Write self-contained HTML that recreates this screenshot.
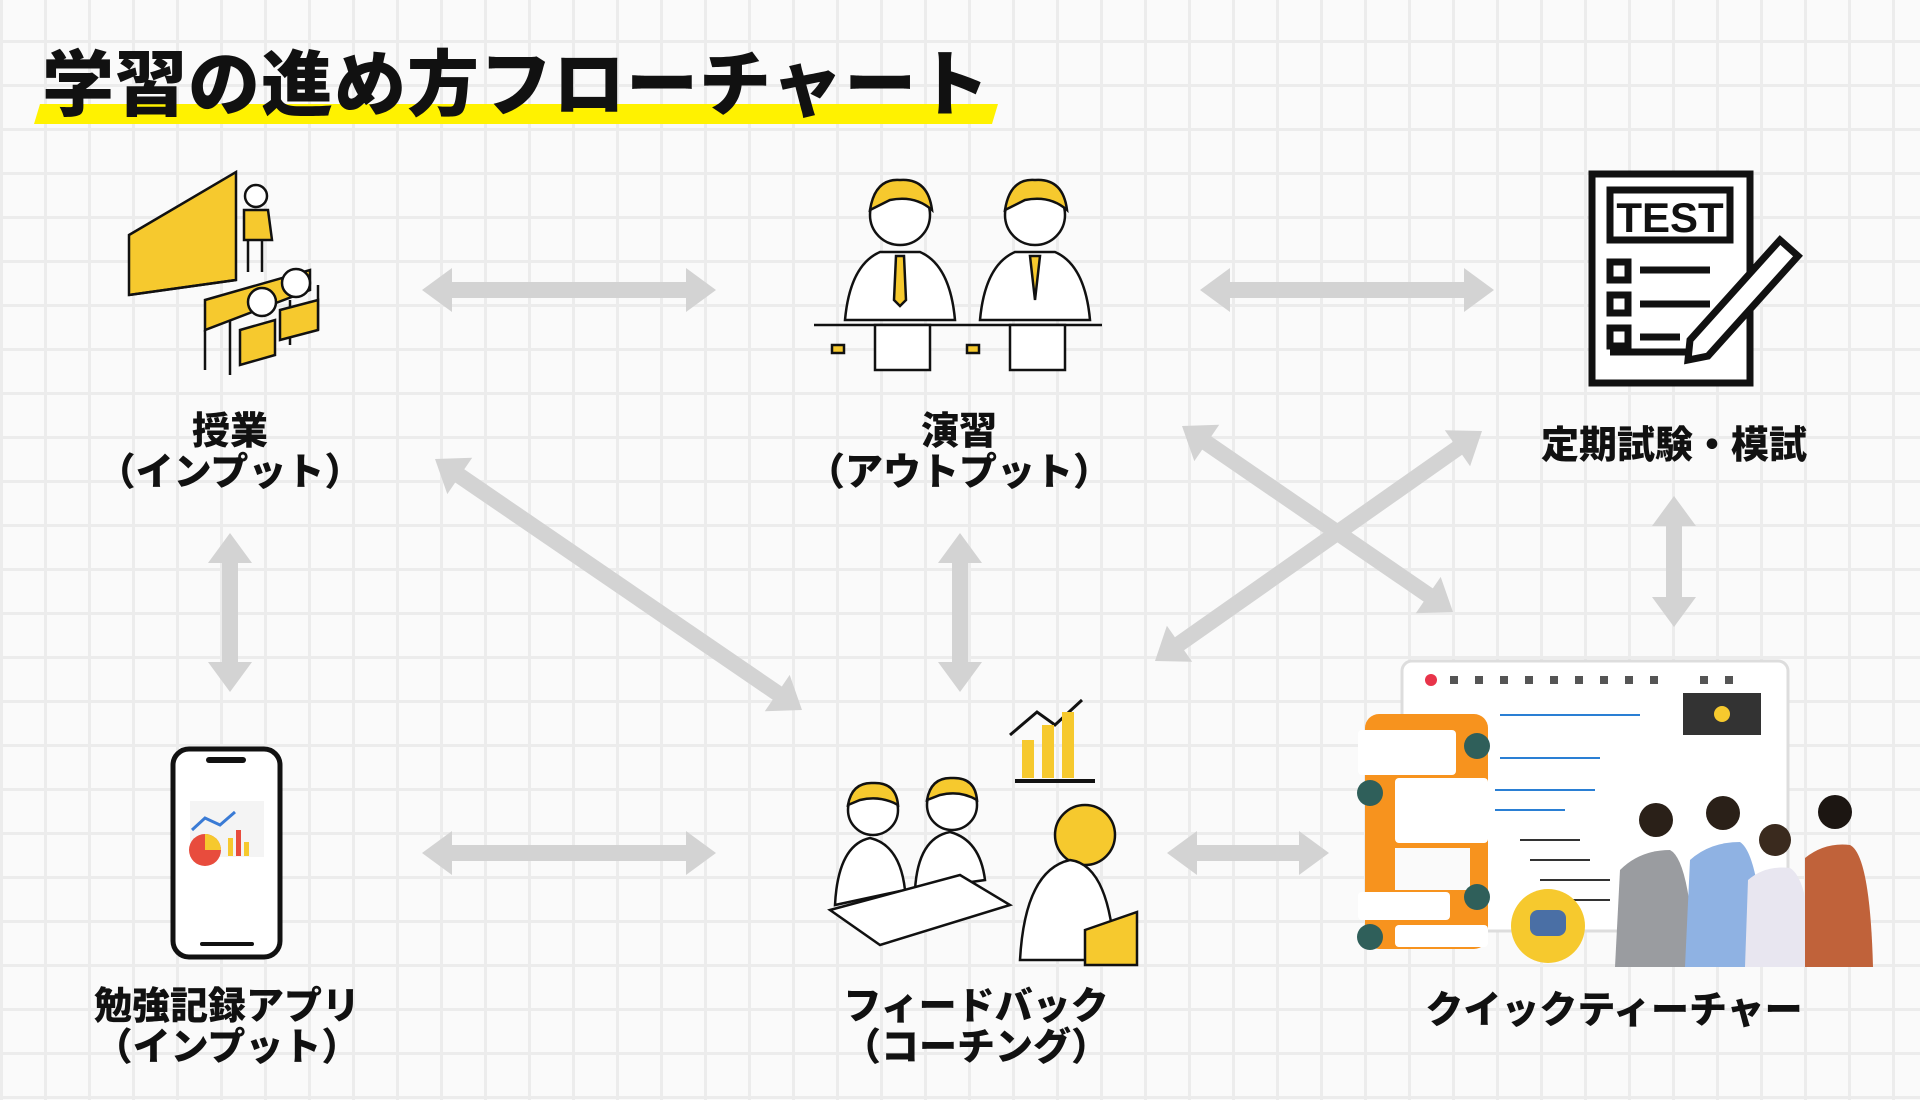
<!DOCTYPE html>
<html><head><meta charset="utf-8">
<style>
html,body{margin:0;padding:0}
body{width:1920px;height:1100px;overflow:hidden;background:#fafafa;
background-image:linear-gradient(#ececec 3px,transparent 3px),linear-gradient(90deg,#ececec 3px,transparent 3px);
background-size:44px 44px;background-position:0 -4px;font-family:"Liberation Sans","Noto Sans CJK JP",sans-serif}
svg{position:absolute;left:0;top:0}
.t{font-family:"Liberation Sans","Noto Sans CJK JP",sans-serif;font-weight:900;fill:#111;text-anchor:middle}
</style></head><body>
<svg width="1920" height="1100" viewBox="0 0 1920 1100" xmlns="http://www.w3.org/2000/svg">
<polygon points="40,104 998,104 992,124 34,124" fill="#fff200"/>
<text x="42" y="110" font-size="72" style="font-family:'Liberation Sans','Noto Sans CJK JP',sans-serif;font-weight:900;fill:#111;letter-spacing:1px">学習の進め方フローチャート</text>

<g id="arrows" fill="#d3d3d3"></g>

<!-- classroom -->
<g stroke="#111" stroke-width="2.5" fill="none">
<polygon points="129,235 236,172 236,280 129,295" fill="#f6c92e"/>
<line x1="129" y1="295" x2="236" y2="280"/>
<circle cx="256" cy="196" r="11" fill="#fff"/>
<path d="M244,210 L268,210 L272,240 L244,240 Z" fill="#f6c92e"/>
<path d="M248,240 L248,272 M262,240 L262,272"/>
<path d="M205,300 L310,270 L310,290 L205,330 Z" fill="#f6c92e"/>
<circle cx="296" cy="283" r="14" fill="#fff"/><circle cx="262" cy="302" r="14" fill="#fff"/>
<path d="M205,330 L205,370 M230,320 L230,375 M290,300 L290,345 M318,285 L318,330"/>
<path d="M280,310 L318,300 L318,330 L280,340 Z" fill="#f6c92e"/>
<path d="M240,330 L275,320 L275,355 L240,365 Z" fill="#f6c92e"/>
</g>

<!-- students -->
<g stroke="#111" stroke-width="2.5">
<line x1="814" y1="325" x2="1102" y2="325"/>
<circle cx="900" cy="215" r="30" fill="#fff"/>
<path d="M870,210 Q875,178 900,180 Q928,178 932,210 Q915,195 890,200 Z" fill="#f6c92e"/>
<path d="M845,320 Q850,265 880,252 L920,252 Q950,265 955,320 Z" fill="#fff"/>
<path d="M896,256 L904,256 L906,300 L900,306 L894,300 Z" fill="#f6c92e"/>
<circle cx="1035" cy="215" r="30" fill="#fff"/>
<path d="M1005,210 Q1010,178 1035,180 Q1063,178 1067,210 Q1050,195 1025,200 Z" fill="#f6c92e"/>
<path d="M980,320 Q985,265 1015,252 L1055,252 Q1085,265 1090,320 Z" fill="#fff"/>
<path d="M1030,256 L1040,256 L1035,300 Z" fill="#f6c92e"/>
<rect x="875" y="325" width="55" height="45" fill="#fff"/>
<rect x="1010" y="325" width="55" height="45" fill="#fff"/>
<rect x="832" y="345" width="12" height="8" fill="#f6c92e"/>
<rect x="967" y="345" width="12" height="8" fill="#f6c92e"/>
</g>

<!-- TEST -->
<g stroke="#111" stroke-width="7" fill="none">
<rect x="1592" y="174" width="158" height="209" fill="#fff"/>
<rect x="1610" y="190" width="120" height="50"/>
<path d="M1610,262 h18 v18 h-18z M1610,295 h18 v18 h-18z M1610,328 h18 v18 h-18z M1640,270 h70 M1640,304 h70 M1640,337 h40 M1610,352 h90"/>
<path d="M1690,340 L1780,240 L1798,256 L1708,356 L1688,360 Z" fill="#fff"/>
</g>
<text x="1670" y="232" font-size="42" style="font-family:'Liberation Sans',sans-serif;font-weight:700;fill:#111;text-anchor:middle">TEST</text>

<!-- phone -->
<g>
<rect x="173" y="749" width="107" height="208" rx="16" fill="#fff" stroke="#111" stroke-width="5"/>
<rect x="206" y="757" width="40" height="6" rx="3" fill="#111"/>
<rect x="190" y="801" width="74" height="56" fill="#f4f4f4"/>
<circle cx="205" cy="850" r="16" fill="#e84c3d"/><path d="M205,850 L205,834 A16,16 0 0 1 221,850 Z" fill="#f6c92e"/>
<rect x="228" y="838" width="5" height="18" fill="#f6c92e"/><rect x="236" y="830" width="5" height="26" fill="#e84c3d"/><rect x="244" y="842" width="5" height="14" fill="#f6c92e"/>
<polyline points="192,830 205,818 220,825 235,812" fill="none" stroke="#3a7bd5" stroke-width="3"/>
<rect x="200" y="942" width="54" height="4" rx="2" fill="#111"/>
</g>

<!-- feedback -->
<g stroke="#111" stroke-width="2.5">
<path d="M1010,735 L1037,712 L1055,725 L1082,700" fill="none" stroke-width="3"/>
<rect x="1022" y="740" width="12" height="38" fill="#f6c92e" stroke="none"/><rect x="1042" y="725" width="12" height="53" fill="#f6c92e" stroke="none"/><rect x="1062" y="712" width="12" height="66" fill="#f6c92e" stroke="none"/>
<line x1="1015" y1="781" x2="1095" y2="781" stroke-width="4"/>
<circle cx="873" cy="810" r="25" fill="#fff"/><path d="M848,805 Q852,782 873,783 Q896,782 898,805 Q880,795 860,800 Z" fill="#f6c92e"/>
<circle cx="952" cy="805" r="25" fill="#fff"/><path d="M927,800 Q931,777 952,778 Q975,777 977,800 Q960,790 940,795 Z" fill="#f6c92e"/>
<path d="M835,905 Q838,845 870,838 Q900,845 905,890 Z" fill="#fff"/>
<path d="M915,890 Q918,838 950,832 Q980,840 985,880 Z" fill="#fff"/>
<path d="M830,910 L960,875 L1010,905 L880,945 Z" fill="#fff"/>
<circle cx="1085" cy="835" r="30" fill="#f6c92e"/>
<path d="M1020,960 Q1025,870 1070,860 Q1110,865 1115,960 Z" fill="#fff"/>
<path d="M1085,930 L1137,912 L1137,965 L1085,965 Z" fill="#f6c92e"/>
</g>

<!-- quick teacher -->
<g>
<rect x="1402" y="661" width="386" height="270" rx="10" fill="#fff" stroke="#ddd" stroke-width="3"/>
<circle cx="1431" cy="680" r="6" fill="#e8344a"/>
<g fill="#555"><rect x="1450" y="676" width="8" height="8"/><rect x="1475" y="676" width="8" height="8"/><rect x="1500" y="676" width="8" height="8"/><rect x="1525" y="676" width="8" height="8"/><rect x="1550" y="676" width="8" height="8"/><rect x="1575" y="676" width="8" height="8"/><rect x="1600" y="676" width="8" height="8"/><rect x="1625" y="676" width="8" height="8"/><rect x="1650" y="676" width="8" height="8"/><rect x="1700" y="676" width="8" height="8"/><rect x="1725" y="676" width="8" height="8"/></g>
<rect x="1683" y="693" width="78" height="42" fill="#333"/>
<circle cx="1722" cy="714" r="8" fill="#f6c92e"/>
<g stroke="#2a7fd4" stroke-width="2" fill="none"><path d="M1500,715 h140 M1500,758 h100 M1495,790 h100 M1495,810 h70"/></g>
<g stroke="#333" stroke-width="2" fill="none"><path d="M1520,840 h60 M1530,860 h60 M1540,880 h70 M1550,900 h60"/></g>
<rect x="1365" y="714" width="123" height="235" rx="14" fill="#f7931e"/>
<rect x="1358" y="730" width="98" height="45" rx="4" fill="#fff"/>
<rect x="1395" y="778" width="93" height="65" rx="4" fill="#fff"/>
<rect x="1395" y="848" width="75" height="42" fill="#fafafa"/>
<rect x="1358" y="892" width="92" height="28" rx="4" fill="#fff"/>
<rect x="1395" y="925" width="93" height="22" rx="4" fill="#fff"/>
<circle cx="1477" cy="746" r="13" fill="#2f5f5a"/><circle cx="1370" cy="793" r="13" fill="#2f5f5a"/>
<circle cx="1477" cy="897" r="13" fill="#2f5f5a"/><circle cx="1370" cy="937" r="13" fill="#2f5f5a"/>
<circle cx="1548" cy="926" r="37" fill="#f6c92e"/>
<rect x="1530" y="910" width="36" height="26" rx="8" fill="#4a6fa5"/>
<circle cx="1656" cy="820" r="17" fill="#2a2018"/><path d="M1615,967 L1620,870 Q1640,850 1670,850 Q1690,860 1695,967 Z" fill="#9a9ca0"/>
<circle cx="1723" cy="813" r="17" fill="#2a2018"/><path d="M1685,967 L1690,860 Q1710,842 1740,842 Q1760,855 1765,967 Z" fill="#8fb2e3"/>
<circle cx="1775" cy="840" r="16" fill="#3a2a1e"/><path d="M1745,967 L1748,880 Q1765,865 1790,868 Q1810,880 1812,967 Z" fill="#e8e6f0"/>
<circle cx="1835" cy="812" r="17" fill="#1c1612"/><path d="M1805,967 L1805,858 Q1825,842 1850,845 Q1870,855 1873,967 Z" fill="#c0623a"/>
</g>

<g>
<text x="230" y="444" font-size="38" class="t">授業</text>
<text x="230" y="485" font-size="38" class="t">（インプット）</text>
<text x="959" y="444" font-size="38" class="t">演習</text>
<text x="959" y="485" font-size="38" class="t">（アウトプット）</text>
<text x="1674" y="458" font-size="38" class="t">定期試験・模試</text>
<text x="227" y="1019" font-size="38" class="t">勉強記録アプリ</text>
<text x="227" y="1060" font-size="38" class="t">（インプット）</text>
<text x="976" y="1019" font-size="38" class="t">フィードバック</text>
<text x="976" y="1060" font-size="38" class="t">（コーチング）</text>
<text x="1614" y="1023" font-size="38" class="t">クイックティーチャー</text>
</g>
</svg>
<script>
var A=[[422,290,716,290],[1200,290,1494,290],[230,533,230,692],[960,533,960,692],[1674,496,1674,627],[422,853,716,853],[1167,853,1329,853],[435,459,802,710],[1182,426,1453,612],[1482,431,1155,661]];
var g=document.getElementById('arrows'),s='';
A.forEach(function(a){var dx=a[2]-a[0],dy=a[3]-a[1],L=Math.hypot(dx,dy),ux=dx/L,uy=dy/L,nx=-uy,ny=ux,w=8,hw=22,hl=30;
function P(t,o){return (a[0]+ux*t+nx*o).toFixed(1)+','+(a[1]+uy*t+ny*o).toFixed(1);}
var p=[P(0,0),P(hl,hw),P(hl,w),P(L-hl,w),P(L-hl,hw),P(L,0),P(L-hl,-hw),P(L-hl,-w),P(hl,-w),P(hl,-hw)];
s+='<polygon points="'+p.join(' ')+'"/>';});
g.innerHTML=s;
</script>
</body></html>
